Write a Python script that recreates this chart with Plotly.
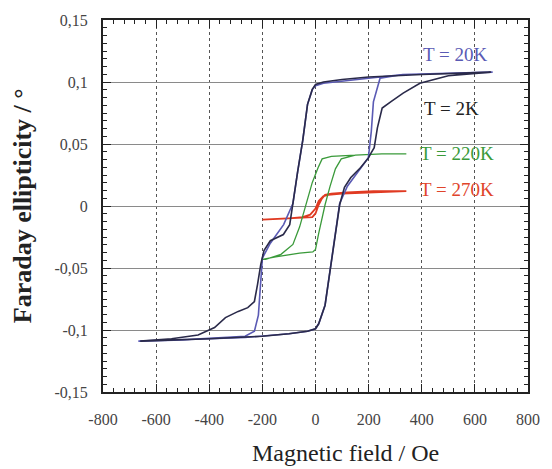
import plotly.graph_objects as go

# ---- data ----
# T = 2K loop: descending branch then ascending branch
t2k_x = [660, 500, 400, 300, 200, 100, 30, 0, -12, -30, -48, -67, -85, -97, -121, -170, -194, -206, -218, -230, -255, -291, -339, -380, -442, -542, -660,
         -660, -500, -400, -300, -200, -100, -30, 0, 12, 36, 55, 73, 91, 109, 133, 170, 200, 210, 221, 233, 251, 283, 330, 393, 500, 660]
t2k_y = [0.108, 0.107, 0.106, 0.105, 0.104, 0.102, 0.100, 0.098, 0.094, 0.082, 0.053, 0.028, 0.001, -0.015, -0.023, -0.028, -0.036, -0.047, -0.063, -0.077, -0.082, -0.085, -0.090, -0.098, -0.104, -0.107, -0.109,
         -0.109, -0.108, -0.107, -0.106, -0.105, -0.103, -0.101, -0.099, -0.095, -0.080, -0.053, -0.026, 0.001, 0.015, 0.023, 0.031, 0.039, 0.043, 0.047, 0.063, 0.079, 0.084, 0.091, 0.099, 0.105, 0.108]

# T = 20K loop
t20k_x = [667, 500, 328, 243, 200, 100, 30, 0, -12, -30, -48, -67, -85, -120, -170, -200, -205, -215, -230, -265, -500, -667,
          -667, -500, -265, -100, -30, 0, 12, 36, 55, 73, 91, 120, 170, 199, 210, 218, 243, 328, 500, 667]
t20k_y = [0.108, 0.107, 0.106, 0.104, 0.103, 0.101, 0.099, 0.097, 0.094, 0.082, 0.053, 0.028, 0.002, -0.015, -0.030, -0.042, -0.060, -0.088, -0.101, -0.105, -0.108, -0.109,
          -0.109, -0.108, -0.106, -0.103, -0.101, -0.099, -0.095, -0.080, -0.053, -0.026, 0.002, 0.016, 0.030, 0.039, 0.060, 0.084, 0.103, 0.106, 0.107, 0.108]

# T = 220K loop
t220k_x = [342, 250, 150, 60, 25, 10, -12, -35, -60, -85, -130, -188, -200,
           -200, -150, -60, -10, 0, 12, 24, 36, 55, 75, 97, 150, 250, 342]
t220k_y = [0.042, 0.042, 0.041, 0.040, 0.038, 0.031, 0.019, 0.002, -0.017, -0.031, -0.039, -0.043, -0.043,
           -0.043, -0.041, -0.038, -0.037, -0.035, -0.022, -0.010, 0.001, 0.016, 0.030, 0.038, 0.041, 0.042, 0.042]

# T = 270K loop
t270k_x = [342, 218, 100, 48, 30, 12, 0, -20, -48, -100, -188, -200,
           -200, -100, -40, -12, 0, 12, 24, 36, 60, 120, 218, 342]
t270k_y = [0.012, 0.011, 0.010, 0.009, 0.008, 0.004, -0.002, -0.007, -0.009, -0.010, -0.011, -0.011,
           -0.011, -0.010, -0.009, -0.009, -0.006, 0.001, 0.006, 0.009, 0.010, 0.011, 0.012, 0.012]

x_ticks = [-800, -600, -400, -200, 0, 200, 400, 600, 800]
x_tick_labels = ["-800", "-600", "-400", "-200", "0", "200", "400", "600", "800"]
y_ticks = [-0.15, -0.1, -0.05, 0, 0.05, 0.1, 0.15]
y_tick_labels = ["-0,15", "-0,1", "-0,05", "0", "0,05", "0,1", "0,15"]

labels = ["T = 20K", "T = 2K", "T = 220K", "T = 270K"]
label_x = [527, 512, 531, 531]
label_y = [0.122, 0.079, 0.042, 0.0135]
label_colors = ["#5a5ab4", "#222222", "#3a9a3a", "#e0442a"]

serif = "Liberation Serif"

fig = go.Figure()
fig.add_trace(go.Scatter(x=t270k_x, y=t270k_y, mode="lines", line=dict(color="#e03a22", width=1.8), name="T = 270K"))
fig.add_trace(go.Scatter(x=t220k_x, y=t220k_y, mode="lines", line=dict(color="#3a9a3a", width=1.3), name="T = 220K"))
fig.add_trace(go.Scatter(x=t20k_x, y=t20k_y, mode="lines", line=dict(color="#5a5ab4", width=1.6), name="T = 20K"))
fig.add_trace(go.Scatter(x=t2k_x, y=t2k_y, mode="lines", line=dict(color="#2a2a4a", width=1.6), name="T = 2K"))

for t, lx, ly, c in zip(labels, label_x, label_y, label_colors):
    fig.add_annotation(x=lx, y=ly, text=t, showarrow=False, xanchor="center", yanchor="middle",
                       font=dict(family=serif, size=19, color=c))

fig.add_annotation(xref="paper", yref="paper", x=0.571, y=-0.163, text="Magnetic field / Oe",
                   showarrow=False, xanchor="center", yanchor="middle",
                   font=dict(family=serif, size=24, color="#222222"))
fig.add_annotation(xref="paper", yref="paper", x=-0.19, y=0.5, text="<b>Faraday ellipticity / °</b>",
                   showarrow=False, xanchor="center", yanchor="middle", textangle=-90,
                   font=dict(family=serif, size=26, color="#222222"))

tick_common = dict(ticks="inside", ticklen=8, tickcolor="#222222")

fig.update_layout(
    width=552, height=469,
    margin=dict(l=103, r=15, t=18, b=77),
    paper_bgcolor="white", plot_bgcolor="white",
    showlegend=False,
    xaxis=dict(range=[-800, 800], tickmode="array", tickvals=x_ticks, ticktext=x_tick_labels,
               showgrid=True, gridcolor="#555555", gridwidth=1, griddash="dot",
               zeroline=False, showline=True, linecolor="#222222", linewidth=2, mirror=True,
               ticklabelstandoff=12, **tick_common,
               minor=dict(dtick=40, tick0=0, ticks="inside", ticklen=4, tickcolor="#222222", showgrid=False),
               tickfont=dict(family=serif, size=16, color="#444444")),
    yaxis=dict(range=[-0.15, 0.15], tickmode="array", tickvals=y_ticks, ticktext=y_tick_labels,
               showgrid=True, gridcolor="#8a8a8a", gridwidth=1.2,
               zeroline=False, showline=True, linecolor="#222222", linewidth=2, mirror=True,
               ticklabelstandoff=10, **tick_common,
               minor=dict(dtick=0.00625, tick0=0, ticks="inside", ticklen=4, tickcolor="#222222", showgrid=False),
               tickfont=dict(family=serif, size=16, color="#444444")),
    xaxis2=dict(overlaying="x", matches="x", side="top", anchor="y", range=[-800, 800],
                tickmode="array", tickvals=x_ticks, showticklabels=False, showgrid=False, zeroline=False,
                **tick_common,
                minor=dict(dtick=40, tick0=0, ticks="inside", ticklen=4, tickcolor="#222222", showgrid=False)),
    yaxis2=dict(overlaying="y", matches="y", side="right", anchor="x", range=[-0.15, 0.15],
                tickmode="array", tickvals=y_ticks, showticklabels=False, showgrid=False, zeroline=False,
                **tick_common,
                minor=dict(dtick=0.00625, tick0=0, ticks="inside", ticklen=4, tickcolor="#222222", showgrid=False)),
)
# invisible helper trace so the top/right tick axes are drawn
fig.add_trace(go.Scatter(x=[t2k_x[0]], y=[t2k_y[0]], xaxis="x2", yaxis="y2", mode="markers",
                         marker=dict(opacity=0), hoverinfo="skip", showlegend=False))

fig.write_html("out.html")
